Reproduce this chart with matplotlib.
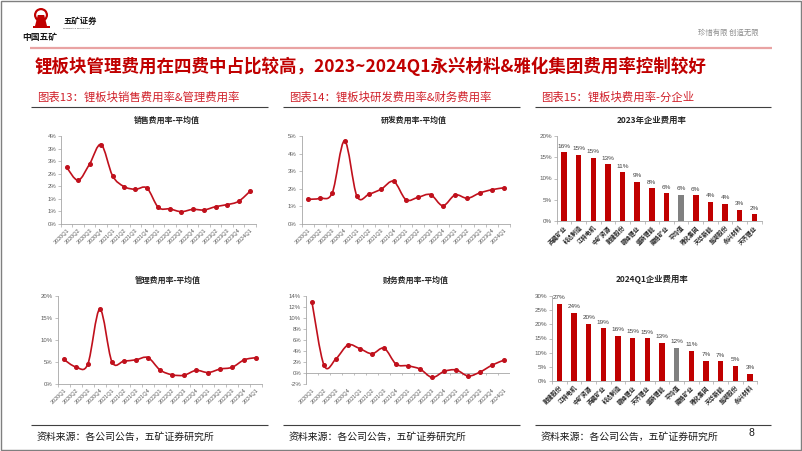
import matplotlib
matplotlib.use("Agg")
import matplotlib.pyplot as plt
from matplotlib.path import Path
from matplotlib.patches import PathPatch, Rectangle, Circle, Polygon
import numpy as np

plt.rcParams['font.family'] = ['Noto Sans CJK SC', 'DejaVu Sans']

# ---------------- data ----------------
quarters = ['2020Q1', '2020Q2', '2020Q3', '2020Q4', '2021Q1', '2021Q2', '2021Q3', '2021Q4',
            '2022Q1', '2022Q2', '2022Q3', '2022Q4', '2023Q1', '2023Q2', '2023Q3', '2023Q4', '2024Q1']
sales_rate = [2.25, 1.74, 2.39, 3.16, 1.92, 1.49, 1.38, 1.43, 0.66, 0.60, 0.49, 0.58, 0.56, 0.69, 0.77, 0.90, 1.30]
rd_rate = [1.40, 1.46, 1.78, 4.72, 1.59, 1.70, 1.99, 2.42, 1.38, 1.52, 1.67, 1.04, 1.65, 1.46, 1.76, 1.95, 2.06]
mgmt_rate = [5.6, 3.9, 4.5, 17.0, 5.1, 5.2, 5.5, 6.0, 3.2, 2.1, 2.0, 3.1, 2.6, 3.4, 3.8, 5.5, 6.0]
fin_rate = [12.85, 1.4, 2.6, 5.1, 4.4, 3.5, 4.5, 1.6, 1.3, 0.7, -0.8, 0.3, 0.55, -0.55, 0.2, 1.45, 2.36]

sales_ticks = [0, 0.5, 1.0, 1.5, 2.0, 2.5, 3.0, 3.5]
sales_ticklabels = ['0%', '1%', '1%', '2%', '2%', '3%', '3%', '4%']
rd_ticks = [0, 1, 2, 3, 4, 5]
mgmt_ticks = [0, 5, 10, 15, 20]
fin_ticks = [-2, 0, 2, 4, 6, 8, 10, 12, 14]

companies_2023 = ['西藏矿业', '科达制造', '江特电机', '中矿资源', '融捷股份', '赣锋锂业', '盛新锂能',
                  '藏格矿业', '平均值', '雅化集团', '天华新能', '盐湖股份', '永兴材料', '天齐锂业']
rate_2023 = [16.2, 15.6, 14.9, 13.3, 11.5, 9.2, 7.7, 6.5, 6.2, 6.1, 4.5, 4.1, 2.7, 1.6]
labels_2023 = ['16%', '15%', '15%', '13%', '11%', '9%', '8%', '6%', '6%', '6%', '4%', '4%', '3%', '2%']
ticks_2023 = [0, 5, 10, 15, 20]

companies_2024q1 = ['融捷股份', '江特电机', '中矿资源', '西藏矿业', '科达制造', '赣锋锂业', '天齐锂业',
                    '盛新锂能', '平均值', '藏格矿业', '雅化集团', '天华新能', '盐湖股份', '永兴材料']
rate_2024q1 = [27.3, 24.1, 20.2, 18.7, 15.9, 15.3, 15.1, 13.5, 11.8, 10.7, 7.2, 6.9, 5.4, 2.6]
labels_2024q1 = ['27%', '24%', '20%', '19%', '16%', '15%', '15%', '13%', '12%', '11%', '7%', '7%', '5%', '3%']
ticks_2024q1 = [0, 5, 10, 15, 20, 25, 30]

# ---------------- styling ----------------
W, H = 802, 451
RED = '#C00000'
LINE_RED = '#C0101C'
GRAY_BAR = '#808080'
AXIS_C = '#A6A6A6'
TXT_C = '#595959'

fig = plt.figure(figsize=(W / 100, H / 100), dpi=100)
fig.patch.set_facecolor('white')


def fx(x):
    return x / W


def fy(y):
    return 1 - y / H


def add_ax(x0, y0, x1, y1):
    return fig.add_axes([fx(x0), fy(y1), (x1 - x0) / W, (y1 - y0) / H])


def smooth_path(xs, ys):
    pts = np.column_stack([xs, ys]).astype(float)
    n = len(pts)
    verts = [pts[0]]
    codes = [Path.MOVETO]
    for i in range(n - 1):
        p0 = pts[i - 1] if i > 0 else pts[i]
        p1 = pts[i]
        p2 = pts[i + 1]
        p3 = pts[i + 2] if i + 2 < n else pts[i + 1]
        c1 = p1 + (p2 - p0) / 6.0
        c2 = p2 - (p3 - p1) / 6.0
        verts += [c1, c2, p2]
        codes += [Path.CURVE4] * 3
    return Path(verts, codes)


def style_axes(ax):
    for s in ['top', 'right']:
        ax.spines[s].set_visible(False)
    for s in ['left', 'bottom']:
        ax.spines[s].set_color(AXIS_C)
        ax.spines[s].set_linewidth(0.6)
    ax.set_facecolor('none')


def line_chart(box, title, title_y, vals, yticks, ylabels, ymin, ymax, zero_axis=False):
    x0, y0, x1, y1 = box
    ax = add_ax(x0, y0, x1, y1)
    style_axes(ax)
    n = len(vals)
    xs = np.arange(n)
    ax.add_patch(PathPatch(smooth_path(xs, vals), facecolor='none', edgecolor=LINE_RED,
                           lw=1.2, zorder=3, capstyle='round', joinstyle='round'))
    ax.plot(xs, vals, linestyle='none', marker='o', ms=2.6, color=LINE_RED, zorder=4)
    ax.set_xlim(-0.5, n - 0.5)
    ax.set_ylim(ymin, ymax)
    ax.set_yticks(yticks)
    ax.set_yticklabels(ylabels, fontsize=4.3, color=TXT_C, family='Liberation Sans')
    ax.tick_params(axis='y', length=2, width=0.5, color=AXIS_C, pad=1.5)
    ax.set_xticks(xs)
    ax.set_xticklabels(quarters, rotation=45, ha='right', rotation_mode='anchor',
                       fontsize=4.0, color=TXT_C, family='Liberation Sans')
    ax.set_xticks(np.arange(-0.5, n, 1.0), minor=True)
    ax.tick_params(axis='x', which='major', length=0, pad=2.5)
    if zero_axis:
        ax.spines['bottom'].set_visible(False)
        ax.axhline(0, color=AXIS_C, lw=0.6, zorder=1)
        ax.tick_params(axis='x', which='minor', length=0)
        ax.vlines(np.arange(-0.5, n, 1.0), ymin=-(ymax - ymin) * 0.02, ymax=0,
                  color=AXIS_C, lw=0.5, zorder=1)
    else:
        ax.tick_params(axis='x', which='minor', length=2, width=0.5, color=AXIS_C)
    cx = (x0 + x1) / 2 + 8
    fig.text(fx(cx), fy(title_y), title, fontsize=5.7, fontweight='bold',
             ha='center', va='center', color='#262626')
    return ax


def bar_chart(box, title, title_y, names, vals, labels, yticks, ymax):
    x0, y0, x1, y1 = box
    ax = add_ax(x0, y0, x1, y1)
    style_axes(ax)
    n = len(vals)
    xs = np.arange(n)
    colors = [GRAY_BAR if nm == '平均值' else RED for nm in names]
    ax.bar(xs, vals, width=0.38, color=colors, zorder=3)
    for x, v, lab in zip(xs, vals, labels):
        ax.annotate(lab, (x, v), xytext=(0, 2.5), textcoords='offset points',
                    ha='center', va='bottom', fontsize=4.6, color='#404040',
                    family='Liberation Sans')
    ax.set_xlim(-0.5, n - 0.5)
    ax.set_ylim(0, ymax)
    ax.set_yticks(yticks)
    ax.set_yticklabels([f'{t}%' for t in yticks], fontsize=4.5, color=TXT_C,
                       family='Liberation Sans')
    ax.tick_params(axis='y', length=2, width=0.5, color=AXIS_C, pad=1.5)
    ax.set_xticks(xs)
    ax.set_xticklabels(names, rotation=45, ha='right', rotation_mode='anchor',
                       fontsize=4.2, color='#262626', fontweight='bold')
    ax.set_xticks(np.arange(-0.5, n, 1.0), minor=True)
    ax.tick_params(axis='x', which='major', length=0, pad=2.5)
    ax.tick_params(axis='x', which='minor', length=2, width=0.5, color=AXIS_C)
    fig.text(fx(652), fy(title_y), title, fontsize=6.0, fontweight='bold',
             ha='center', va='center', color='#262626')
    return ax


# ---------------- charts ----------------
line_chart((61, 136, 255.7, 224), '销售费用率-平均值', 120, sales_rate,
           sales_ticks, sales_ticklabels, 0, 3.5)
line_chart((301.6, 136, 510.4, 224), '研发费用率-平均值', 120, rd_rate,
           rd_ticks, [f'{t}%' for t in rd_ticks], 0, 5)
bar_chart((556.7, 136, 761.6, 221), '2023年企业费用率', 120, companies_2023,
          rate_2023, labels_2023, ticks_2023, 20)

line_chart((57.7, 296, 262.3, 384), '管理费用率-平均值', 280, mgmt_rate,
           mgmt_ticks, [f'{t}%' for t in mgmt_ticks], 0, 20)
line_chart((306, 296, 510.3, 384), '财务费用率-平均值', 280, fin_rate,
           fin_ticks, [f'{t}%' for t in fin_ticks], -2, 14, zero_axis=True)
bar_chart((552, 296, 757.3, 381), '2024Q1企业费用率', 280, companies_2024q1,
          rate_2024q1, labels_2024q1, ticks_2024q1, 30)

# ---------------- slide decorations ----------------
deco = fig.add_axes([0, 0, 1, 1])
deco.set_xlim(0, W)
deco.set_ylim(H, 0)
deco.axis('off')
deco.set_zorder(-1)

# border
deco.add_patch(Rectangle((0.5, 0.5), W - 1.5, H - 1.5, fill=False, edgecolor='#7F7F7F', lw=1.0))

# logo emblem
ex = 41
deco.add_patch(Circle((ex, 15), 7.0, facecolor=RED, edgecolor='none'))
deco.add_patch(Circle((ex, 15), 4.8, facecolor='white', edgecolor='none'))
deco.add_patch(Polygon([[ex - 6, 26], [ex + 6, 26], [ex + 3.2, 15], [ex - 3.2, 15]], closed=True,
                       facecolor=RED, edgecolor='none'))
deco.add_patch(Rectangle((ex - 8.5, 26), 17, 2.0, facecolor=RED, edgecolor='none'))
deco.text(40, 37.5, '中国五矿', fontsize=6.3, fontweight='bold', ha='center', va='center', color='#1a1a1a')
deco.text(63, 21, '五矿证券', fontsize=6.0, fontweight='bold', ha='left', va='center', color='#1a1a1a')
deco.text(63, 28, 'MINMETALS SECURITIES', fontsize=1.6, ha='left', va='center', color='#333333',
          family='DejaVu Sans')
deco.text(759, 33, '珍惜有限 创造无限', fontsize=5.3, ha='right', va='center', color='#8C8C8C')

# header line
deco.plot([30, 772], [47.5, 47.5], color='#E9A3A3', lw=1.6, solid_capstyle='butt')

# main title
deco.text(35, 66, '锂板块管理费用在四费中占比较高，2023~2024Q1永兴材料&雅化集团费用率控制较好',
          fontsize=12.6, fontweight='bold', ha='left', va='center', color=RED)

# subtitles & separators
sub_titles = ['图表13：锂板块销售费用率&管理费用率', '图表14：锂板块研发费用率&财务费用率', '图表15：锂板块费用率-分企业']
sub_x = [37, 289, 541]
seg = [(31, 268), (283, 520), (535, 771)]
for t, x, (a, b) in zip(sub_titles, sub_x, seg):
    deco.text(x, 97, t, fontsize=8.2, ha='left', va='center', color='#D0202A')
    deco.plot([a, b], [106.5, 106.5], color='#404040', lw=0.8, solid_capstyle='butt')
    deco.plot([a, b], [424.5, 424.5], color='#404040', lw=0.8, solid_capstyle='butt')
    deco.text(x, 437, '资料来源：各公司公告，五矿证券研究所', fontsize=7.1, ha='left', va='center',
              color='#1a1a1a')

deco.text(751, 433, '8', fontsize=7.5, ha='center', va='center', color='#1a1a1a',
          family='Liberation Sans')

fig.savefig('out.png', dpi=100)
